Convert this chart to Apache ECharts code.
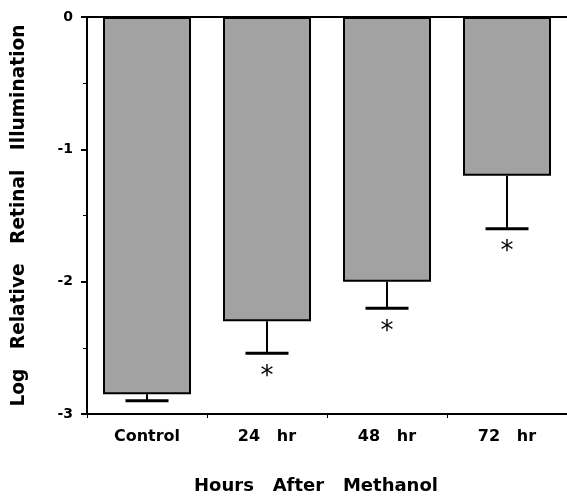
<!DOCTYPE html>
<html>
<head>
<meta charset="utf-8">
<script src="https://cdn.jsdelivr.net/npm/echarts@6/dist/echarts.min.js"></script>
<style>html,body{margin:0;padding:0;background:#fff}#c{width:567px;height:500px}</style>
</head>
<body>
<div id="c"></div>
<script>
var categories = ['Control', '24   hr', '48   hr', '72   hr'];
var means = [-2.85, -2.3, -2.0, -1.2];
var errLow = [-2.9, -2.54, -2.2, -1.6];
var significant = [false, true, true, true];
var yTicks = [0, -1, -2, -3];

var FONT = '"DejaVu Sans", sans-serif';
var chart = echarts.init(document.getElementById('c'));

chart.setOption({
  animation: false,
  backgroundColor: '#fff',
  grid: { left: 87, right: 0, top: 17, bottom: 82 },
  xAxis: [{
    type: 'category',
    data: categories,
    position: 'bottom',
    axisLine: { onZero: false, lineStyle: { color: '#000', width: 2 } },
    axisTick: { show: true, length: 4, lineStyle: { color: '#000', width: 1 } },
    axisLabel: { color: '#000', fontFamily: FONT, fontWeight: 'bold', fontSize: 16, margin: 15 },
    name: 'Hours   After   Methanol',
    nameLocation: 'middle',
    nameGap: 63,
    nameTextStyle: { color: '#000', fontFamily: FONT, fontWeight: 'bold', fontSize: 18, padding: [0, 22, 0, 0] }
  }, {
    type: 'category',
    data: categories,
    position: 'top',
    axisLine: { onZero: false, lineStyle: { color: '#000', width: 2 } },
    axisTick: { show: false },
    axisLabel: { show: false }
  }],
  yAxis: {
    type: 'value',
    min: -3, max: 0, interval: 1,
    axisLine: { show: true, lineStyle: { color: '#000', width: 2 } },
    axisTick: { show: true, length: 6, lineStyle: { color: '#000', width: 2 } },
    minorTick: { show: true, splitNumber: 2, length: 4, lineStyle: { color: '#000', width: 1 } },
    splitLine: { show: false },
    axisLabel: {
      color: '#000', fontFamily: FONT, fontWeight: 'bold', fontSize: 14, margin: 14,
      formatter: function (v) { return yTicks.indexOf(v) >= 0 ? String(v) : ''; }
    },
    name: 'Log   Relative   Retinal   Illumination',
    nameLocation: 'middle',
    nameGap: 58,
    nameTextStyle: { color: '#000', fontFamily: FONT, fontWeight: 'bold', fontSize: 18.6 }
  },
  series: [{
    type: 'bar',
    data: means,
    barWidth: 88,
    itemStyle: { color: '#a2a2a2', borderColor: '#000', borderWidth: 2 }
  }, {
    type: 'custom',
    data: means.map(function (m, i) { return [i, m, errLow[i], significant[i] ? 1 : 0]; }),
    renderItem: function (params, api) {
      var i = api.value(0);
      var top = api.coord([i, api.value(1)]);
      var bot = api.coord([i, api.value(2)]);
      var half = 21.5;
      var children = [{
        type: 'line',
        shape: { x1: top[0], y1: top[1], x2: bot[0], y2: bot[1] },
        style: { stroke: '#000', lineWidth: 2 }
      }, {
        type: 'line',
        shape: { x1: bot[0] - half, y1: bot[1], x2: bot[0] + half, y2: bot[1] },
        style: { stroke: '#000', lineWidth: 3 }
      }];
      if (api.value(3)) {
        children.push({
          type: 'text',
          style: {
            text: '*', x: bot[0], y: bot[1] + 24,
            align: 'center', verticalAlign: 'middle',
            font: '26px "DejaVu Sans", sans-serif', fill: '#000'
          }
        });
      }
      return { type: 'group', children: children };
    },
    z: 5
  }]
});
</script>
</body>
</html>
